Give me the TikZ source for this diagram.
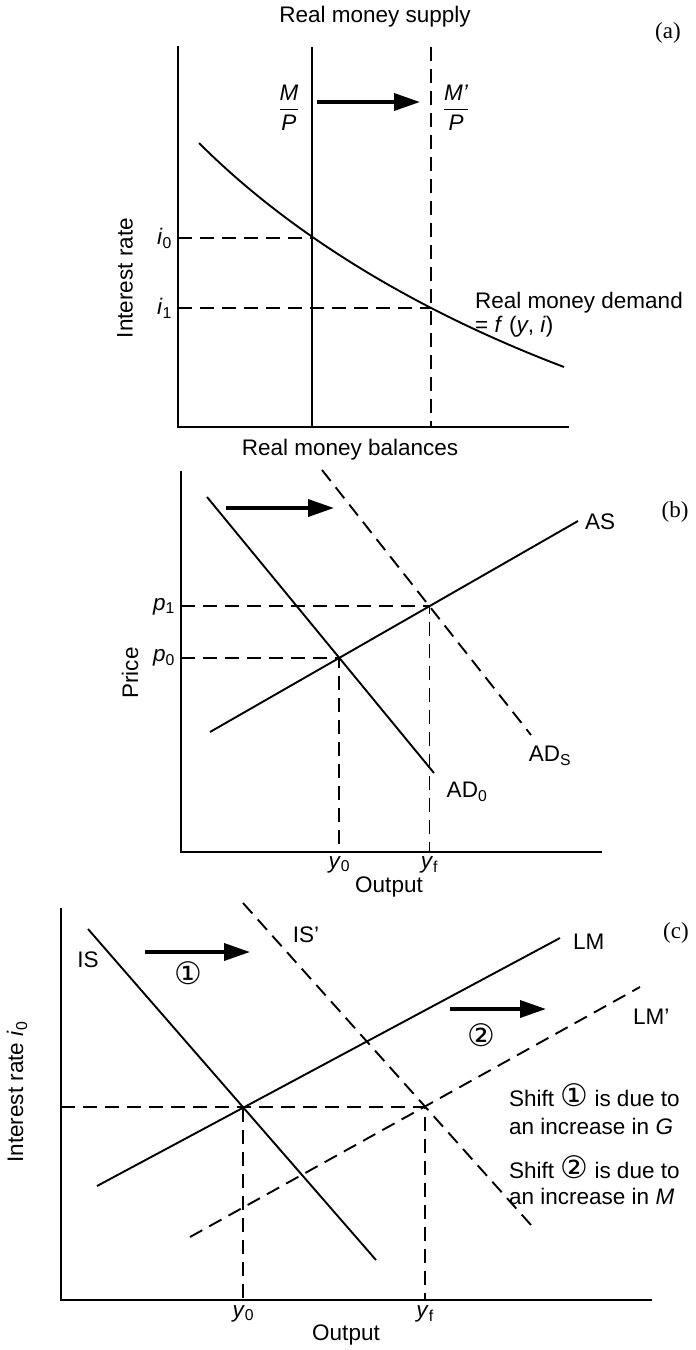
\documentclass[tikz,border=0pt]{standalone}
\usepackage{amsmath}
\usepackage{fontspec}
\setmainfont{Liberation Sans}
\newfontfamily\tagfont{Liberation Serif}
\newfontfamily\symfont{DejaVu Sans}
\usetikzlibrary{arrows.meta, positioning}
\tikzset{
  axisline/.style={line width=2.6pt, line cap=rect},
  curve/.style={line width=1.9pt},
  guide/.style={line width=1.9pt, dash pattern=on 14pt off 8pt},
  move/.style={-{Triangle[length=26pt, width=17pt]}, line width=3.6pt},
  lbl/.style={inner sep=1pt},
  tag/.style={font=\tagfont\fontsize{23}{25}\selectfont},
  note/.style={align=left, inner sep=0pt},
}
\newcommand{\circnum}[1]{{\symfont\fontsize{31}{31}\selectfont #1}}
\newcommand{\frc}[2]{$\genfrac{}{}{1.6pt}{0}{\textit{#1}}{\textit{#2}}$}

\begin{document}
\begin{tikzpicture}[x=1pt, y=-1pt, font=\fontsize{22.5}{24}\selectfont]
  \fill[white] (0,0) rectangle (696,1350);
  \useasboundingbox (0,0) rectangle (696,1350);

  % (a) money market
  \coordinate (aO) at (178,427); \coordinate (aY) at (178,47); \coordinate (aX) at (568,427);
  \draw[axisline] (aY) -- (aO) -- (aX);
  \coordinate (ms0top) at (312,47); \coordinate (ms0bot) at (312,427);
  \coordinate (ms1top) at (431,47); \coordinate (ms1bot) at (431,427);
  \draw[curve] (ms0top) -- (ms0bot);
  \draw[guide] (ms1top) -- (ms1bot);
  \coordinate (aE0) at (312,238); \coordinate (aE1) at (431,308);
  \coordinate (mds) at (199,143); \coordinate (mde) at (564,367);
  \draw[curve] (mds) .. controls (289,233) and (414,310) .. (mde);
  \draw[guide] (aE0 -| aO) -- (aE0);
  \draw[guide] (aE1 -| aO) -- (aE1);
  \coordinate (aArrS) at (317,102); \coordinate (aArrE) at (420,102);
  \draw[move] (aArrS) -- (aArrE);
  \node (supply) at (375,17) {Real money supply};
  \node[tag] (tagA) at (668,33) {(a)};
  \node (mp0) at (289,108) {\frc{M}{P}};
  \node (mp1) at (456,108) {\frc{M'}{P}};
  \node[lbl, left=5pt of aE0 -| aO] (ai0) {\textit{i}\textsubscript{0}};
  \node[lbl, left=5pt of aE1 -| aO] (ai1) {\textit{i}\textsubscript{1}};
  \node[rotate=90] (arate) at (125,278) {Interest rate};
  \node[note, anchor=west, text depth=0pt, font=\fontsize{22.5}{24}\selectfont] (demand) at (475,312) {Real money demand\\= \textit{f} (\textit{y}, \textit{i})};
  \node (balances) at (350,450) {Real money balances};

  % (b) AS-AD
  \coordinate (bO) at (181,852); \coordinate (bY) at (181,472); \coordinate (bX) at (601,852);
  \draw[axisline] (bY) -- (bO) -- (bX);
  \coordinate (ad0s) at (207,497); \coordinate (ad0e) at (434,773);
  \coordinate (ass) at (210,732); \coordinate (ase) at (578,521);
  \coordinate (adss) at (322,470); \coordinate (adse) at (531,735);
  \coordinate (bE0) at (intersection of ad0s--ad0e and ass--ase);
  \coordinate (bE1) at (intersection of adss--adse and ass--ase);
  \draw[guide] (bE1 -| bO) -- (bE1) -- (bE1 |- bO);
  \draw[guide] (bE0 -| bO) -- (bE0) -- (bE0 |- bO);
  \draw[curve] (ad0s) -- (ad0e);
  \draw[curve] (ass) -- (ase);
  \draw[guide] (adss) -- (adse);
  \coordinate (bArrS) at (226,508); \coordinate (bArrE) at (334,508);
  \draw[move] (bArrS) -- (bArrE);
  \node[tag] (tagB) at (675,512) {(b)};
  \node[lbl, anchor=west] (lAS) at (584,522) {AS};
  \node (lADs) at (550,756) {AD\textsubscript{S}};
  \node (lAD0) at (467,792) {AD\textsubscript{0}};
  \node[lbl, left=5pt of bE1 -| bO] (bp1) {\textit{p}\textsubscript{1}};
  \node[lbl, left=5pt of bE0 -| bO] (bp0) {\textit{p}\textsubscript{0}};
  \node[rotate=90] (bprice) at (130,673) {Price};
  \node[lbl, below=3pt of bE0 |- bO] (by0) {\textit{y}\textsubscript{0}};
  \node[lbl, below=3pt of bE1 |- bO] (byf) {\textit{y}\textsubscript{f}};
  \node (boutput) at (389,887) {Output};

  % (c) IS-LM
  \coordinate (cO) at (61,1300); \coordinate (cY) at (61,909); \coordinate (cX) at (651,1300);
  \draw[axisline] (cY) -- (cO) -- (cX);
  \coordinate (iss) at (88,929); \coordinate (ise) at (376,1260);
  \coordinate (lms) at (97,1186); \coordinate (lme) at (560,938);
  \coordinate (is1s) at (243,903); \coordinate (is1e) at (531,1225);
  \coordinate (lm1s) at (190,1237); \coordinate (lm1e) at (640,987);
  \coordinate (cE0) at (intersection of iss--ise and lms--lme);
  \coordinate (cE1) at (intersection of is1s--is1e and lm1s--lm1e);
  \draw[guide] (cE1 -| cO) -- (cE1) -- (cE1 |- cO);
  \draw[guide] (cE0) -- (cE0 |- cO);
  \draw[curve] (iss) -- (ise);
  \draw[curve] (lms) -- (lme);
  \draw[guide] (is1s) -- (is1e);
  \draw[guide] (lm1s) -- (lm1e);
  \coordinate (cArr1S) at (145,952); \coordinate (cArr1E) at (250,952);
  \coordinate (cArr2S) at (450,1009); \coordinate (cArr2E) at (546,1009);
  \draw[move] (cArr1S) -- (cArr1E);
  \draw[move] (cArr2S) -- (cArr2E);
  \node (cone) at (188,973) {\circnum{①}};
  \node (ctwo) at (481,1035) {\circnum{②}};
  \node[tag] (tagC) at (676,933) {(c)};
  \node (lIS) at (88,960) {IS};
  \node (lIS1) at (306,935) {IS'};
  \node[lbl, anchor=west] (lLM) at (572,942) {LM};
  \node[lbl, anchor=west] (lLM1) at (632,1017) {LM'};
  \node[note, anchor=west, font=\fontsize{22.5}{28}\selectfont] (shiftG) at (509,1109) {Shift \circnum{①} is due to\\an increase in \textit{G}};
  \node[note, anchor=west, font=\fontsize{22.5}{26}\selectfont] (shiftM) at (509,1180) {Shift \circnum{②} is due to\\an increase in \textit{M}};
  \node[rotate=90] (crate) at (17,1092) {Interest rate \textit{i}\textsubscript{0}};
  \node[lbl, below=4pt of cE0 |- cO] (cy0) {\textit{y}\textsubscript{0}};
  \node[lbl, below=4pt of cE1 |- cO] (cyf) {\textit{y}\textsubscript{f}};
  \node (coutput) at (346,1335) {Output};
\end{tikzpicture}
\end{document}
